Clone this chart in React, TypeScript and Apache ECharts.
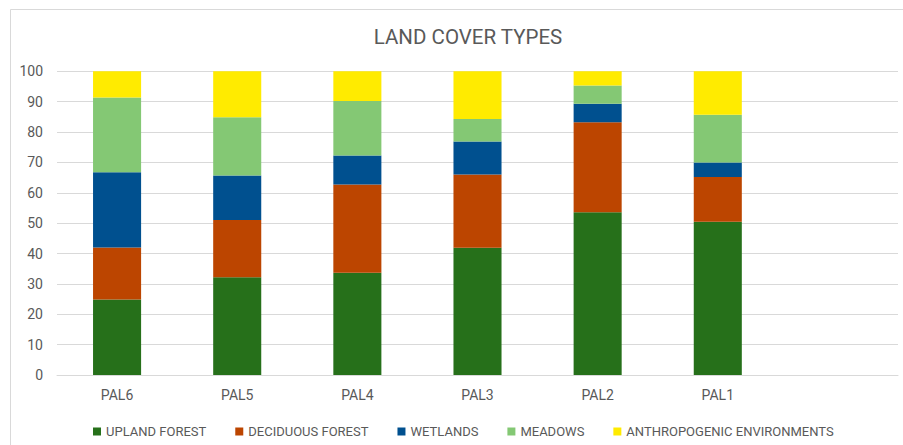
import React, { useEffect, useRef } from "react";
import * as echarts from "echarts";

// Sites, listed left to right; the trailing blank slot keeps the empty column on the right.
const sites = ["PAL6", "PAL5", "PAL4", "PAL3", "PAL2", "PAL1", ""];

// Share of each land cover type per site (%), stacked bottom to top.
const uplandForest = [24.9, 32.2, 33.7, 41.9, 53.6, 50.5];
const deciduousForest = [17.1, 18.8, 29.0, 24.1, 29.6, 14.7];
const wetlands = [24.8, 14.7, 9.6, 10.9, 6.1, 4.8];
const meadows = [24.6, 19.2, 17.9, 7.4, 6.0, 15.7];
const anthropogenic = [8.6, 15.1, 9.8, 15.7, 4.7, 14.3];

const seriesNames = [
  "UPLAND FOREST",
  "DECIDUOUS FOREST",
  "WETLANDS",
  "MEADOWS",
  "ANTHROPOGENIC ENVIRONMENTS",
];
const seriesColors = ["#26701A", "#BC4500", "#00508F", "#84C874", "#FFEB00"];

const yTicks = { min: 0, max: 100, interval: 10 };

export default function App() {
  const ref = useRef<HTMLDivElement>(null);

  useEffect(() => {
    if (!ref.current) return;
    const chart = echarts.init(ref.current, null, { renderer: "svg" });
    const values = [uplandForest, deciduousForest, wetlands, meadows, anthropogenic];
    const textColor = "#595959";
    const font = "Roboto, 'Noto Sans', sans-serif";

    chart.setOption({
      animation: false,
      backgroundColor: "#ffffff",
      textStyle: { fontFamily: font },
      title: {
        text: "LAND COVER TYPES",
        left: 463,
        top: 21,
        textAlign: "center",
        textStyle: { fontFamily: font, fontSize: 20.5, fontWeight: "normal", color: textColor },
      },
      graphic: [
        {
          type: "rect",
          shape: { x: 10.5, y: 9.5, width: 1000, height: 1000 },
          style: { fill: "none", stroke: "#d9d9d9", lineWidth: 1 },
          silent: true,
        },
      ],
      legend: {
        left: 88,
        top: 420,
        itemWidth: 8,
        itemHeight: 8,
        itemGap: 29,
        icon: "rect",
        textStyle: { fontFamily: font, fontSize: 13, color: textColor },
        data: seriesNames,
      },
      grid: { left: 57, right: 5, top: 71.3, bottom: 70, containLabel: false },
      xAxis: {
        type: "category",
        data: sites,
        axisLine: { show: true, lineStyle: { color: "#d9d9d9" } },
        axisTick: { show: false },
        axisLabel: { color: textColor, fontSize: 14, margin: 13, fontFamily: font },
      },
      yAxis: {
        type: "value",
        min: yTicks.min,
        max: yTicks.max,
        interval: yTicks.interval,
        axisLine: { show: false },
        axisTick: { show: false },
        splitLine: { lineStyle: { color: "#d9d9d9", width: 1 } },
        axisLabel: { color: textColor, fontSize: 14, margin: 14, fontFamily: font },
      },
      series: seriesNames.map((name, i) => ({
        name,
        type: "bar",
        stack: "total",
        barWidth: "40%",
        itemStyle: { color: seriesColors[i] },
        data: [...values[i], "-"],
      })),
    });

    return () => chart.dispose();
  }, []);

  return (
    <div
      ref={ref}
      style={{ position: "fixed", left: 0, top: 0, width: 903, height: 445 }}
    />
  );
}
